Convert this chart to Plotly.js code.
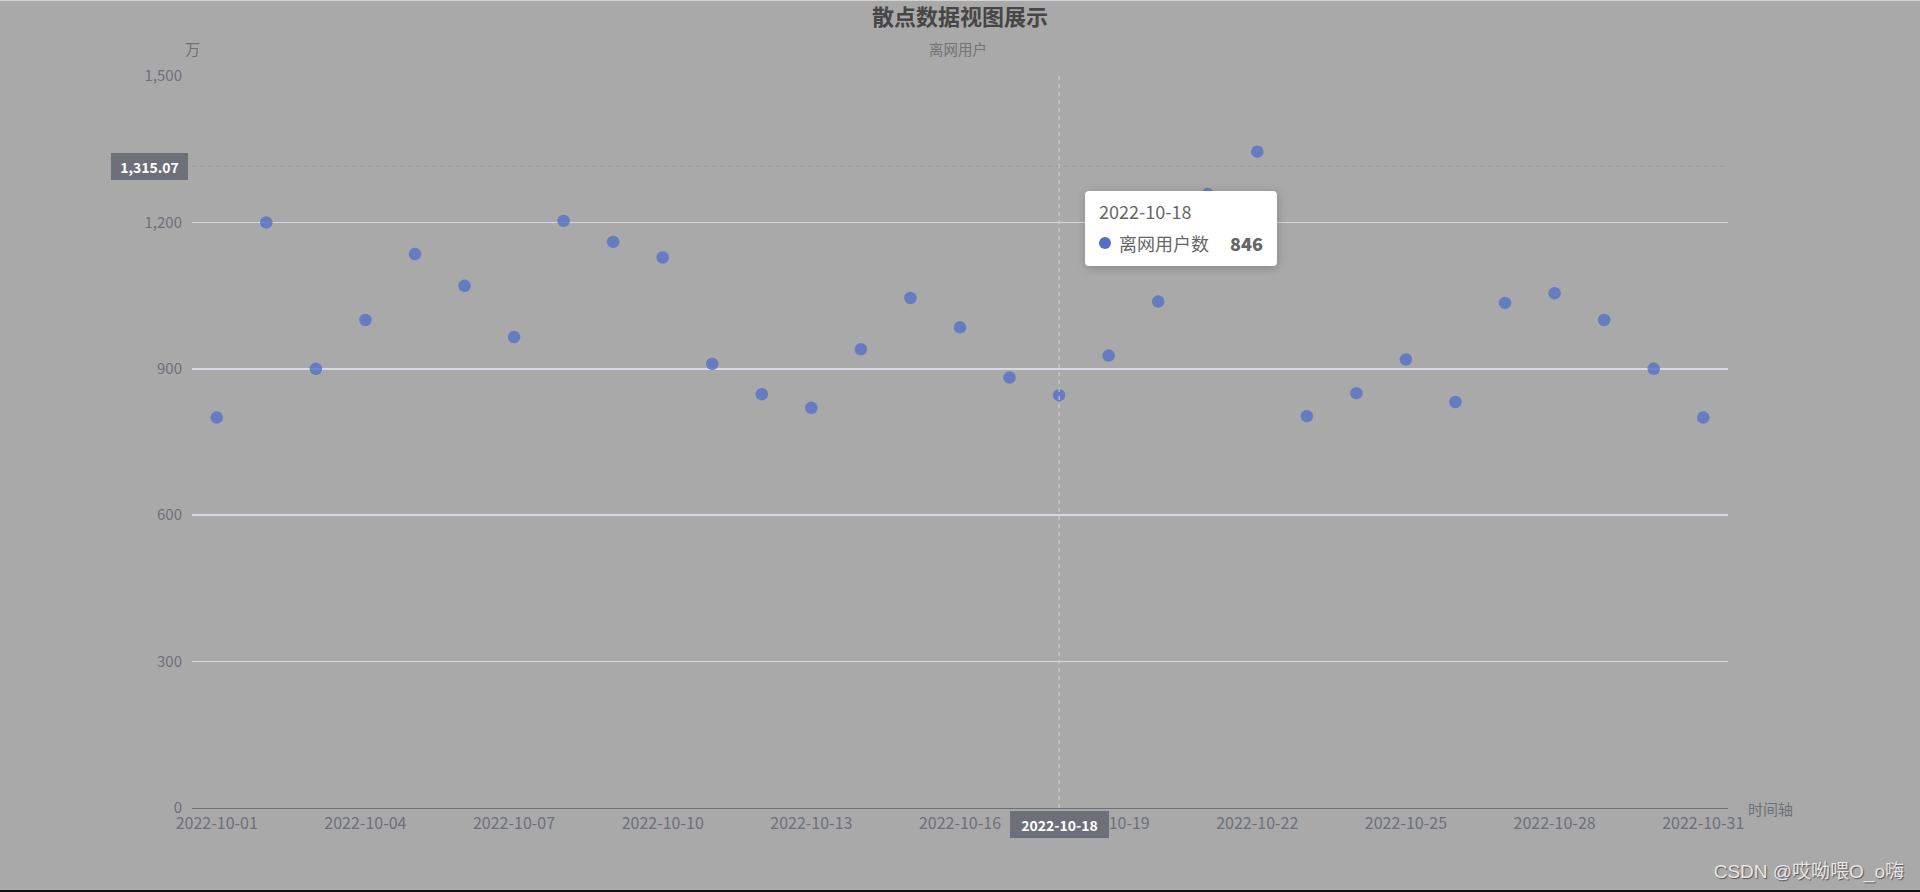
<!DOCTYPE html>
<html>
<head>
<meta charset="utf-8">
<script src="https://cdn.plot.ly/plotly-3.0.1.min.js"></script>
<style>
  html, body { margin: 0; padding: 0; background: #a9a9a9; }
  #wrap { position: relative; width: 1920px; height: 892px; overflow: hidden; }
  #chart { position: absolute; left: 0; top: 0; width: 1920px; height: 892px; }
  .tip { position: absolute; left: 1085px; top: 191px; width: 192px; height: 75px; background: #fff;
         border-radius: 4px; box-shadow: 1px 2px 10px rgba(0,0,0,0.2);
         font-family: 'Noto Sans CJK SC', 'Noto Sans', sans-serif; color: #666; font-size: 18px; }
  .tip .hd { position: absolute; left: 14px; top: 8px; line-height: 24px; }
  .tip .row { position: absolute; left: 14px; right: 14px; top: 40px; height: 24px; line-height: 24px; }
  .tip .dot { position: absolute; left: 0; top: 6px; width: 12px; height: 12px; border-radius: 50%; background: #5470c6; }
  .tip .nm { position: absolute; left: 20px; top: 0; }
  .tip .val { position: absolute; right: 0; top: 0; font-weight: 900; }
  .wm { position: absolute; right: 16px; top: 860px; font-family: 'Liberation Sans', 'Noto Sans CJK SC', sans-serif;
        font-size: 19px; line-height: 24px; color: #e6e6e6; text-shadow: 1px 1px 1px #555; }
  .bt { position: absolute; left: 0; top: 0; width: 1920px; height: 1px; background: #d4d4d4; }
  .bb { position: absolute; left: 0; bottom: 0; width: 1920px; height: 2px; background: #111; }
</style>
</head>
<body>
<div id="wrap">
  <div id="chart"></div>
  <div class="tip" id="tip"><div class="hd" id="tipHd"></div>
    <div class="row"><span class="dot"></span><span class="nm" id="tipNm"></span><span class="val" id="tipVal"></span></div>
  </div>
  <div class="wm">CSDN @哎呦喂O_o嗨</div>
  <div class="bt"></div>
  <div class="bb"></div>
</div>
<script>
// ---- data ----
const dates = [
  '2022-10-01','2022-10-02','2022-10-03','2022-10-04','2022-10-05','2022-10-06','2022-10-07',
  '2022-10-08','2022-10-09','2022-10-10','2022-10-11','2022-10-12','2022-10-13','2022-10-14',
  '2022-10-15','2022-10-16','2022-10-17','2022-10-18','2022-10-19','2022-10-20','2022-10-21',
  '2022-10-22','2022-10-23','2022-10-24','2022-10-25','2022-10-26','2022-10-27','2022-10-28',
  '2022-10-29','2022-10-30','2022-10-31'
];
const offlineUsers = [
  800, 1200, 900, 1000, 1135, 1070, 965,
  1203, 1160, 1128, 910, 848, 820, 940,
  1045, 985, 882, 846, 927, 1038, 1258,
  1345, 803, 850, 919, 832, 1035, 1055,
  1000, 900, 800
];
const seriesName = '离网用户数';
const legendText = '离网用户';
const chartTitle = '散点数据视图展示';
const yAxisName = '万';
const xAxisName = '时间轴';
const yTicks = [0, 300, 600, 900, 1200, 1500];
const hoverDate = '2022-10-18';
const pointerY = 1315.07;

// ---- derived ----
const xTickVals = dates.filter((d, i) => i % 3 === 0);
const hoverIdx = dates.indexOf(hoverDate);
const n = dates.length;
const boundaryTicks = [];
for (let i = 0; i < n; i += 3) boundaryTicks.push(i - 0.5);
boundaryTicks.push(n - 0.5);

const font = "'Noto Sans CJK SC', 'Noto Sans', sans-serif";
const axisGray = '#6e7079';

const trace = {
  type: 'scatter', mode: 'markers', name: seriesName,
  x: dates, y: offlineUsers,
  marker: { size: 12.5, color: '#5470c6', opacity: 0.8, line: { width: 0 } },
  hoverinfo: 'none', showlegend: false
};

const fmt = v => v.toLocaleString('en-US', { minimumFractionDigits: 2, maximumFractionDigits: 2 });

const layout = {
  width: 1920, height: 892,
  paper_bgcolor: '#a9a9a9', plot_bgcolor: '#a9a9a9',
  margin: { l: 192, r: 192, t: 76, b: 84, pad: 0 },
  font: { family: font, color: axisGray, size: 15 },
  showlegend: false,
  title: { text: '<b>' + chartTitle + '</b>', x: 0.5, xref: 'paper', y: 1 - 17 / 892, yref: 'container',
           yanchor: 'middle', font: { family: font, size: 22, color: '#464646' } },
  xaxis: {
    type: 'category', range: [-0.5, n - 0.5], tickvals: xTickVals, ticktext: xTickVals,
    ticks: '', showgrid: false, zeroline: false, showline: true, linecolor: axisGray, linewidth: 1,
    tickfont: { family: font, size: 16, color: axisGray }, ticklabelstandoff: 1, fixedrange: true
  },
  xaxis2: {
    overlaying: 'x', anchor: 'y', side: 'bottom', type: 'linear', range: [-0.5, n - 0.5],
    tickvals: boundaryTicks, ticks: 'outside', ticklen: 5, tickcolor: axisGray, tickwidth: 1,
    showticklabels: false, showgrid: false, zeroline: false, showline: false
  },
  yaxis: {
    range: [0, 1500], tickvals: yTicks, tickformat: ',', ticks: '', showline: false, zeroline: false,
    showgrid: true, gridcolor: '#d6d9e1', gridwidth: 1.8,
    tickfont: { family: font, size: 15, color: axisGray }, ticklabelstandoff: 9, fixedrange: true
  },
  shapes: [
    { type: 'line', xref: 'paper', x0: 0, x1: 1, yref: 'y', y0: pointerY, y1: pointerY,
      line: { color: '#9a9a9a', width: 1, dash: '4px,4px' } },
    { type: 'line', xref: 'x', x0: hoverIdx, x1: hoverIdx, yref: 'paper', y0: 0, y1: 1,
      line: { color: '#d2d2d2', width: 1, dash: '4px,4px' } }
  ],
  annotations: [
    { text: legendText, xref: 'paper', x: 0.4986, yref: 'paper', y: 1, yshift: 28, xanchor: 'center', yanchor: 'middle',
      showarrow: false, font: { family: font, size: 14.5, color: '#747474' } },
    { text: yAxisName, xref: 'paper', x: 0, yref: 'paper', y: 1, yshift: 28, xanchor: 'center', yanchor: 'middle',
      showarrow: false, font: { family: font, size: 15, color: axisGray } },
    { text: xAxisName, xref: 'paper', x: 1, xshift: 18, yref: 'paper', y: 0, xanchor: 'left', yanchor: 'middle',
      showarrow: false, font: { family: font, size: 15, color: axisGray } },
    { text: '<b>' + fmt(pointerY) + '</b>', xref: 'paper', x: 0, xshift: -4, yref: 'y', y: pointerY,
      xanchor: 'right', yanchor: 'middle', showarrow: false, bgcolor: axisGray, borderwidth: 0, borderpad: 4,
      width: 69, height: 19, font: { family: font, size: 14, color: '#ffffff' } },
    { text: '<b>' + hoverDate + '</b>', xref: 'x', x: hoverIdx, yref: 'paper', y: 0, yshift: -3,
      xanchor: 'center', yanchor: 'top', showarrow: false, bgcolor: axisGray, borderwidth: 0, borderpad: 4,
      width: 91, height: 19, font: { family: font, size: 14, color: '#ffffff' } }
  ]
};

Plotly.newPlot('chart', [trace], layout, { displayModeBar: false, staticPlot: true });

document.getElementById('tipHd').textContent = hoverDate;
document.getElementById('tipNm').textContent = seriesName;
document.getElementById('tipVal').textContent = offlineUsers[hoverIdx];
</script>
</body>
</html>
